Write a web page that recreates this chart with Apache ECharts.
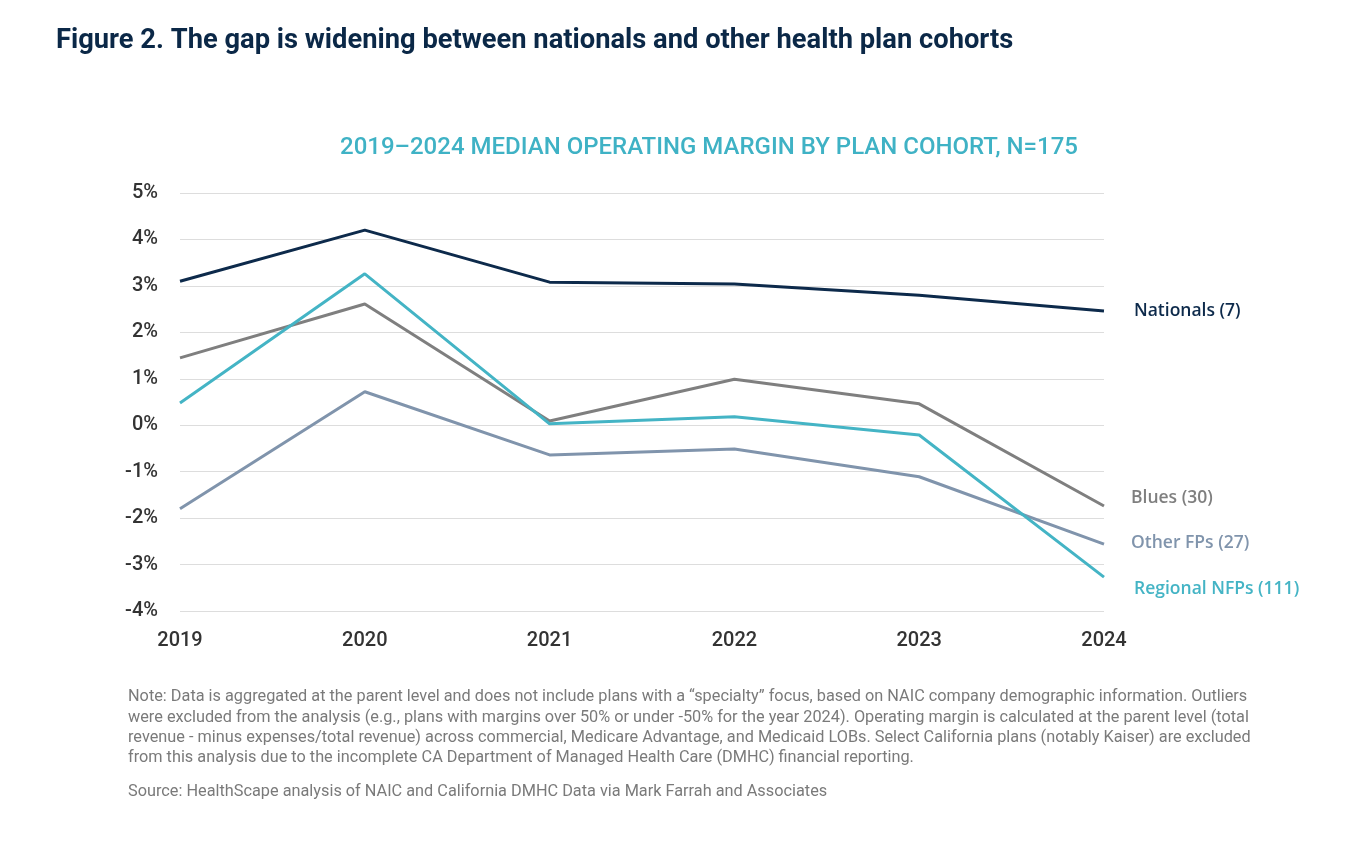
<!DOCTYPE html>
<html><head><meta charset="utf-8">
<script src="https://cdn.jsdelivr.net/npm/echarts@6/dist/echarts.min.js"></script>
<style>html,body{margin:0;padding:0;background:#fff}#c{width:1359px;height:841px}</style>
</head><body><div id="c"></div>
<script>
const years = ['2019','2020','2021','2022','2023','2024'];
const nationals = [3.10, 4.20, 3.08, 3.04, 2.80, 2.46];
const blues = [1.45, 2.61, 0.09, 0.99, 0.46, -1.74];
const regionalNFPs = [0.48, 3.26, 0.03, 0.18, -0.21, -3.27];
const otherFPs = [-1.80, 0.72, -0.64, -0.51, -1.11, -2.56];
const seriesNames = ['Nationals (7)', 'Blues (30)', 'Other FPs (27)', 'Regional NFPs (111)'];

const chart = echarts.init(document.getElementById('c'));
function mk(name, data, color, offset, z) {
  return {
    name, type: 'line', data, z,
    symbol: 'none',
    lineStyle: { color, width: 3 },
    itemStyle: { color },
    endLabel: { show: true, formatter: name, color, fontFamily: 'Open Sans', fontWeight: 600, fontSize: 17.5, offset, distance: 0 },
    animation: false
  };
}
chart.setOption({
  animation: false,
  title: [
    { text: 'Figure 2. The gap is widening between nationals and other health plan cohorts', left: 51, top: 23,
      textStyle: { fontFamily: 'Roboto', fontWeight: 700, fontSize: 27.3, color: '#0b2847' } },
    { text: '2019–2024 MEDIAN OPERATING MARGIN BY PLAN COHORT, N=175', left: 335, top: 131,
      textStyle: { fontFamily: 'Roboto', fontWeight: 500, fontSize: 24, color: '#3fb2c5' } }
  ],
  grid: { left: 180, right: 255, top: 193, bottom: 230, containLabel: false },
  xAxis: {
    type: 'category', data: years, boundaryGap: false,
    axisLine: { show: false }, axisTick: { show: false },
    axisLabel: { color: '#333', fontFamily: 'Roboto', fontWeight: 500, fontSize: 20, margin: 20 }
  },
  yAxis: {
    type: 'value', min: -4, max: 5, interval: 1,
    axisLine: { show: false }, axisTick: { show: false },
    splitLine: { lineStyle: { color: '#dddddd', width: 1 } },
    axisLabel: { formatter: '{value}%', color: '#333', fontFamily: 'Roboto', fontWeight: 500, fontSize: 20, margin: 22 }
  },
  series: [
    mk(seriesNames[0], nationals, '#0d2a4b', [30, 0], 5),
    mk(seriesNames[1], blues, '#7f7f7f', [27, -8], 3),
    mk(seriesNames[2], otherFPs, '#8094ac', [27, -1], 2),
    mk(seriesNames[3], regionalNFPs, '#44b4c5', [30, 12], 4)
  ],
  graphic: [
    { type: 'text', left: 128, top: 687, style: {
      text: 'Note: Data is aggregated at the parent level and does not include plans with a “specialty” focus, based on NAIC company demographic information. Outliers\nwere excluded from the analysis (e.g., plans with margins over 50% or under -50% for the year 2024). Operating margin is calculated at the parent level (total\nrevenue - minus expenses/total revenue) across commercial, Medicare Advantage, and Medicaid LOBs. Select California plans (notably Kaiser) are excluded\nfrom this analysis due to the incomplete CA Department of Managed Health Care (DMHC) financial reporting.',
      font: '16.3px "Roboto"', fill: '#7a7a7a', lineHeight: 20.3 } },
    { type: 'text', left: 128, top: 782, style: {
      text: 'Source: HealthScape analysis of NAIC and California DMHC Data via Mark Farrah and Associates',
      font: '16.3px "Roboto"', fill: '#7a7a7a', lineHeight: 20.3 } }
  ]
});
</script></body></html>
